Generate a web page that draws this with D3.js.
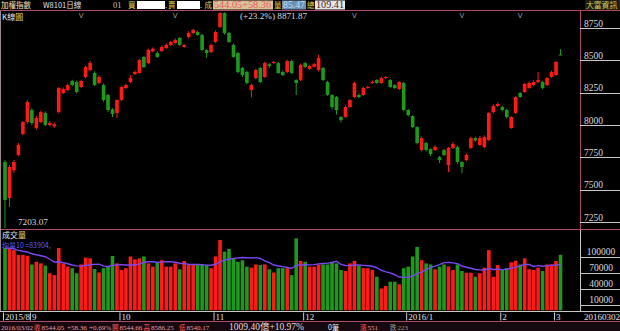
<!DOCTYPE html>
<html>
<head>
<meta charset="utf-8">
<script src="https://cdn.jsdelivr.net/npm/d3@7/dist/d3.min.js"></script>
<style>
  body { margin: 0; background: #000; }
  svg { display: block; }
</style>
</head>
<body>
<svg id="chart" width="620" height="331"></svg>
<script>
// TAIEX daily bars, 2015/8/24 .. 2016/3/2
const open = [7714,7435,7650,7768,7930,8023,8116,7977,8023,8093,8000,7990,8100,8247,8270,8340,8332,8294,8371,8425,
  8402,8325,8309,8232,8120,8093,8193,8286,8332,8394,8402,8526,8479,8570,8557,8572,8595,8619,8634,8673,
  8603,8680,8711,8719,8696,8580,8564,8642,8758,8866,8711,8619,8557,8441,8410,8270,8363,8441,8371,8470,
  8480,8479,8410,8410,8495,8348,8348,8479,8433,8450,8425,8441,8332,8232,8216,8062,8062,8139,8216,8232,
  8232,8286,8325,8348,8325,8363,8348,8309,8278,8325,8116,8069,7984,7806,7861,7814,7806,7752,7806,7690,
  7822,7830,7714,7729,7822,7899,7845,7830,7884,8100,8147,8139,8116,7977,8093,8247,8255,8286,8309,8332,
  8332,8309,8371,8386,8544.66];
const high = [7730,7690,7730,7860,8030,8190,8130,8070,8110,8105,8030,8020,8295,8290,8320,8350,8345,8350,8460,8495,
  8415,8385,8320,8240,8130,8200,8300,8320,8385,8420,8510,8535,8590,8600,8570,8615,8630,8650,8670,8680,
  8625,8725,8745,8730,8705,8585,8630,8730,8871.87,8870,8720,8630,8565,8450,8420,8320,8435,8450,8490,8480,
  8495,8490,8420,8505,8505,8355,8475,8490,8465,8480,8541,8450,8340,8240,8225,8070,8150,8200,8335,8245,
  8295,8305,8345,8355,8375,8380,8355,8315,8340,8335,8125,8075,7990,7910,7870,7820,7845,7760,7815,7830,
  7870,7840,7720,7780,7910,7910,7915,7920,8100,8160,8175,8150,8125,8070,8225,8255,8325,8340,8345,8410,
  8340,8370,8420,8495,8586.25];
const low = [7203.07,7366,7630,7760,7920,8010,8000,7965,8015,7990,7990,7980,8090,8240,8262,8300,8245,8285,8360,8415,
  8300,8315,8180,8100,8060,8054,8185,8278,8325,8385,8395,8440,8470,8560,8520,8565,8590,8610,8625,8610,
  8598,8670,8700,8690,8570,8520,8555,8635,8750,8700,8635,8520,8400,8370,8315,8215,8355,8325,8365,8440,
  8470,8395,8380,8400,8395,8232,8340,8440,8425,8445,8415,8340,8225,8120,8080,8020,8055,8130,8210,8205,
  8225,8280,8318,8318,8318,8355,8285,8278,8270,8105,8065,7975,7850,7795,7795,7760,7800,7706,7760,7636,
  7815,7700,7627,7720,7815,7870,7840,7820,7875,8090,8140,8105,8050,7970,8085,8210,8250,8280,8300,8325,
  8278,8300,8365,8380,8540.17];
const close = [7420,7675,7714,7845,8023,8178,8015,8054,8100,8000,8015,8005,8286,8278,8309,8309,8255,8340,8448,8479,
  8309,8371,8193,8116,8085,8193,8294,8309,8363,8410,8503,8448,8580,8590,8526,8603,8619,8642,8657,8619,
  8619,8711,8735,8696,8580,8557,8619,8719,8866,8711,8642,8526,8410,8386,8325,8309,8425,8332,8479,8455,
  8487,8402,8386,8495,8402,8325,8464,8448,8456,8470,8518,8348,8232,8139,8116,8038,8139,8193,8325,8216,
  8286,8294,8332,8325,8363,8371,8294,8286,8332,8116,8077,7984,7861,7899,7806,7775,7830,7729,7768,7822,
  7853,7714,7675,7768,7899,7880,7899,7907,8093,8147,8162,8116,8062,8062,8216,8216,8317,8325,8332,8348,
  8286,8363,8410,8487,8544.05];
const volume = [117000,116000,113000,104000,104000,102000,86000,91000,88000,84000,69500,66000,117000,88000,82000,79000,69500,86000,99000,97500,
  77500,71000,79000,82000,102000,88000,75600,79000,101000,95600,97500,101000,88000,82000,91000,94000,82000,82000,88000,77000,
  92500,86000,85000,85000,85000,85000,79000,101000,132000,110000,115000,97500,91000,94000,82000,80000,86000,85000,86000,77000,
  71000,79000,79000,79000,66000,135000,92500,91000,82000,82000,86000,86000,86000,91000,88000,75600,73700,88000,92500,84000,
  79000,79000,75600,63000,41000,45600,53700,53700,48800,79000,82000,101000,119000,94000,88000,86000,77000,82000,86000,82000,
  75600,86000,73700,70500,70500,63000,69500,80000,113000,63000,85000,75600,79000,90000,93000,86000,97500,77000,75600,80000,
  73700,86000,86000,92500,104000];

const priceTicks = [8750, 8500, 8250, 8000, 7750, 7500, 7250];
const volTicks = [100000, 70000, 40000, 10000];
const monthIdx = [0, 6, 26, 47, 67, 90, 111, 123];
const monthLabels = ["2015/8", "9", "10", "11", "12", "2016/1", "2", "3"];
const markIdx = [17, 38, 78, 102, 115];   // "V" marks on top row
const maPeriod = 10;

const W = 620, H = 331;
const SERIF = "'Liberation Serif', 'Noto Sans CJK TC', serif";
const CJK = "'Noto Sans CJK TC', sans-serif";
const PINK = "#b04868", GREY = "#c8c8c8", RED = "#ff1a1a", GREEN = "#1e991e", YEL = "#e8d848";

const svg = d3.select("#chart");
svg.append("rect").attr("width", W).attr("height", H).attr("fill", "#000");

function label(g, s, x, y, o = {}) {
  const t = g.append("text").attr("x", x).attr("y", y).text(s)
    .attr("fill", o.fill || "#ddd")
    .style("font-family", o.font || SERIF)
    .style("font-size", (o.size || 9) + "px");
  if (o.len) t.attr("textLength", o.len).attr("lengthAdjust", "spacingAndGlyphs");
  if (o.anchor) t.attr("text-anchor", o.anchor);
  return t;
}

const idx = d3.range(close.length);
const x = d3.scaleLinear().domain([0, close.length - 1]).range([5, 560.5]);
const y = d3.scaleLinear().domain([7250, 8750]).range([222, 28]);
const yv = d3.scaleLinear().domain([0, 100000]).range([310.3, 257]);
const col = i => close[i] >= open[i] ? RED : GREEN;

// frame lines
const frame = svg.append("g").attr("shape-rendering", "crispEdges");
frame.append("line").attr("x1", 0).attr("x2", W).attr("y1", 10.5).attr("y2", 10.5).attr("stroke", PINK);
frame.append("line").attr("x1", 580.5).attr("x2", 580.5).attr("y1", 10).attr("y2", 229).attr("stroke", PINK);
frame.append("line").attr("x1", 0).attr("x2", W).attr("y1", 229.5).attr("y2", 229.5).attr("stroke", PINK);
frame.append("line").attr("x1", 580.5).attr("x2", 580.5).attr("y1", 230).attr("y2", 311).attr("stroke", GREY);
frame.append("line").attr("x1", 0).attr("x2", W).attr("y1", 311.5).attr("y2", 311.5).attr("stroke", GREY);
frame.append("line").attr("x1", 0).attr("x2", W).attr("y1", 321.5).attr("y2", 321.5).attr("stroke", PINK);
frame.append("line").attr("x1", 0.5).attr("x2", 0.5).attr("y1", 11).attr("y2", 311).attr("stroke", "#9a8a8a");

// header row
const hd = svg.append("g");
label(hd, "加權指數", 1, 7.8, {font: CJK, size: 7.5, fill: "#efe6c4"});
label(hd, "W8101日線", 43, 7.8, {font: CJK, size: 7.5, fill: "#e0e0e0"});
label(hd, "01", 113, 8.3, {size: 8.5, fill: "#c0c0c0"});
label(hd, "買", 128, 7.8, {font: CJK, size: 7.5, fill: YEL});
hd.append("rect").attr("x", 137).attr("y", 1).attr("width", 28).attr("height", 8).attr("fill", "#fff");
label(hd, ".", 165, 8.3, {size: 9, fill: "#fff"});
label(hd, "賣", 168, 7.8, {font: CJK, size: 7.5, fill: YEL});
hd.append("rect").attr("x", 177).attr("y", 1).attr("width", 23).attr("height", 8).attr("fill", "#fff");
label(hd, ".", 200, 8.3, {size: 9, fill: "#fff"});
label(hd, "成", 204.5, 7.8, {font: CJK, size: 7.5, fill: YEL});
hd.append("rect").attr("x", 213).attr("y", 0.5).attr("width", 60).attr("height", 9).attr("fill", "#d9c298");
label(hd, "544.05+58.36", 214, 8.3, {size: 9.5, fill: "#e85a60", len: 57});
label(hd, "量", 274, 7.8, {font: CJK, size: 7.5, fill: YEL});
hd.append("rect").attr("x", 282).attr("y", 0.5).attr("width", 24).attr("height", 9).attr("fill", "#6f8fb0");
label(hd, "85.47", 283, 8.3, {size: 9.5, fill: "#b8e0ff", len: 22});
label(hd, "總", 307, 7.8, {font: CJK, size: 7.5, fill: YEL});
hd.append("rect").attr("x", 315).attr("y", 0.5).attr("width", 30).attr("height", 9).attr("fill", "#e6e6e6");
label(hd, "109.41", 316, 8.3, {size: 9.5, fill: "#4a2020", len: 28});
hd.append("rect").attr("x", 585).attr("y", 0).attr("width", 35).attr("height", 10).attr("fill", "#1e1e14");
label(hd, "大富資訊", 586, 7.8, {font: CJK, size: 7.8, fill: "#d8cc5a"});

// second row texts
const kt = label(svg, "K線", 2, 19.5, {font: CJK, size: 8, fill: "#e6e6e6"});
kt.append("tspan").attr("fill", "#e8d860").text("圖");
svg.append("g").selectAll("text").data(markIdx).join("text")
  .attr("x", d => x(d)).attr("y", 17.5).attr("text-anchor", "middle")
  .attr("fill", "#9a9a9a").style("font-family", "'DejaVu Sans', sans-serif").style("font-size", "7px")
  .text("V");
label(svg, "(+23.2%) 8871.87", 240, 19, {size: 9.2, fill: "#d8d8d8"});
label(svg, "7203.07", 18, 225, {size: 9.2, fill: "#d8d8d8"});

// candles
const gc = svg.append("g");
gc.selectAll("line").data(idx).join("line")
  .attr("x1", i => x(i)).attr("x2", i => x(i))
  .attr("y1", i => y(high[i])).attr("y2", i => y(low[i]))
  .attr("stroke", col).attr("stroke-width", 1);
gc.selectAll("rect").data(idx).join("rect")
  .attr("x", i => x(i) - 1.8).attr("width", 3.6)
  .attr("y", i => y(Math.max(open[i], close[i])))
  .attr("height", i => Math.max(1, Math.abs(y(open[i]) - y(close[i]))))
  .attr("fill", col);

// price axis
const pa = svg.append("g").attr("transform", "translate(580,0)")
  .call(d3.axisRight(y).tickValues(priceTicks).tickSize(40).tickFormat(d3.format("d")));
pa.select(".domain").remove();
pa.selectAll(".tick line").attr("stroke", GREY).attr("shape-rendering", "crispEdges");
pa.selectAll(".tick text").attr("x", 4).attr("y", -2).attr("dy", 0).attr("text-anchor", "start")
  .attr("fill", "#d8d8d8").style("font-family", SERIF).style("font-size", "9.5px");

// volume panel
const vt = label(svg, "成交", 2, 237.5, {font: CJK, size: 8, fill: "#e6e6e6"});
vt.append("tspan").attr("fill", "#e8d860").text("量");
label(svg, "均量10 =83904,", 2, 248.2, {font: CJK, size: 7, fill: "#5c5cff"});

svg.append("g").selectAll("rect").data(idx).join("rect")
  .attr("x", i => x(i) - 1.8).attr("width", 3.6)
  .attr("y", i => yv(volume[i]))
  .attr("height", i => yv(0) - yv(volume[i]))
  .attr("fill", col);

const ma = idx.map(i => d3.mean(volume.slice(Math.max(0, i - maPeriod + 1), i + 1)));
svg.append("path").datum(idx)
  .attr("d", d3.line().x(i => x(i)).y(i => yv(ma[i])))
  .attr("fill", "none").attr("stroke", "#7a48f0").attr("stroke-width", 1.4);

const va = svg.append("g").attr("transform", "translate(580,0)")
  .call(d3.axisRight(yv).tickValues(volTicks).tickSize(40).tickFormat(d3.format("d")));
va.select(".domain").remove();
va.selectAll(".tick line").attr("stroke", GREY).attr("shape-rendering", "crispEdges");
va.selectAll(".tick text").attr("x", 21).attr("y", -2.5).attr("dy", 0).attr("text-anchor", "middle")
  .attr("fill", "#d8d8d8").style("font-family", SERIF).style("font-size", "9.5px");

// date axis
const xt = d3.scaleLinear().domain(x.domain()).range(x.range().map(v => v - 2));
const da = svg.append("g").attr("transform", "translate(0,311)")
  .call(d3.axisBottom(xt).tickValues(monthIdx).tickSize(9)
    .tickFormat(d => monthLabels[monthIdx.indexOf(d)]));
da.select(".domain").remove();
da.selectAll(".tick line").attr("stroke", "#d0d0d0").attr("y1", 1.5).attr("y2", 9.5);
da.selectAll(".tick text").attr("x", 1.5).attr("y", 8.5).attr("dy", 0).attr("text-anchor", "start")
  .attr("fill", "#e0e0e0").style("font-family", SERIF).style("font-size", "9px");
label(svg, "20160302", 584, 319.5, {size: 9, fill: "#e0e0e0"});

// status row
svg.append("rect").attr("x", 0).attr("y", 322).attr("width", W).attr("height", 9).attr("fill", "#160a10");
const st = svg.append("g");
const SP = "#e89aa4", SR = "#ff5a5a";
label(st, "2016/03/02", 1, 329.5, {size: 7, fill: SP});
label(st, "收", 34, 329.5, {font: CJK, size: 6.5, fill: SR});
label(st, "8544.05", 41.5, 329.5, {size: 7, fill: SP});
label(st, "+58.36", 67, 329.5, {size: 7, fill: SP});
label(st, "+0.69%", 89, 329.5, {size: 7, fill: SP});
label(st, "開", 112, 329.5, {font: CJK, size: 6.5, fill: SR});
label(st, "8544.66", 119.5, 329.5, {size: 7, fill: SP});
label(st, "高", 143.5, 329.5, {font: CJK, size: 6.5, fill: SR});
label(st, "8586.25", 151, 329.5, {size: 7, fill: SP});
label(st, "低", 179, 329.5, {font: CJK, size: 6.5, fill: SR});
label(st, "8540.17", 186.5, 329.5, {size: 7, fill: SP});
label(st, "1009.40億+10.97%", 229, 329.5, {size: 9.5, fill: "#e6d8dc"});
label(st, "0筆", 328, 329.5, {font: CJK, size: 7, fill: "#f0f0f0"});
label(st, "漲", 360, 329.5, {font: CJK, size: 6.5, fill: SR});
label(st, "551", 367.5, 329.5, {size: 7, fill: SP});
label(st, "跌", 390, 329.5, {font: CJK, size: 6.5, fill: "#9a9a9a"});
label(st, "223", 397.5, 329.5, {size: 7, fill: "#9a9a9a"});
</script>
</body>
</html>
